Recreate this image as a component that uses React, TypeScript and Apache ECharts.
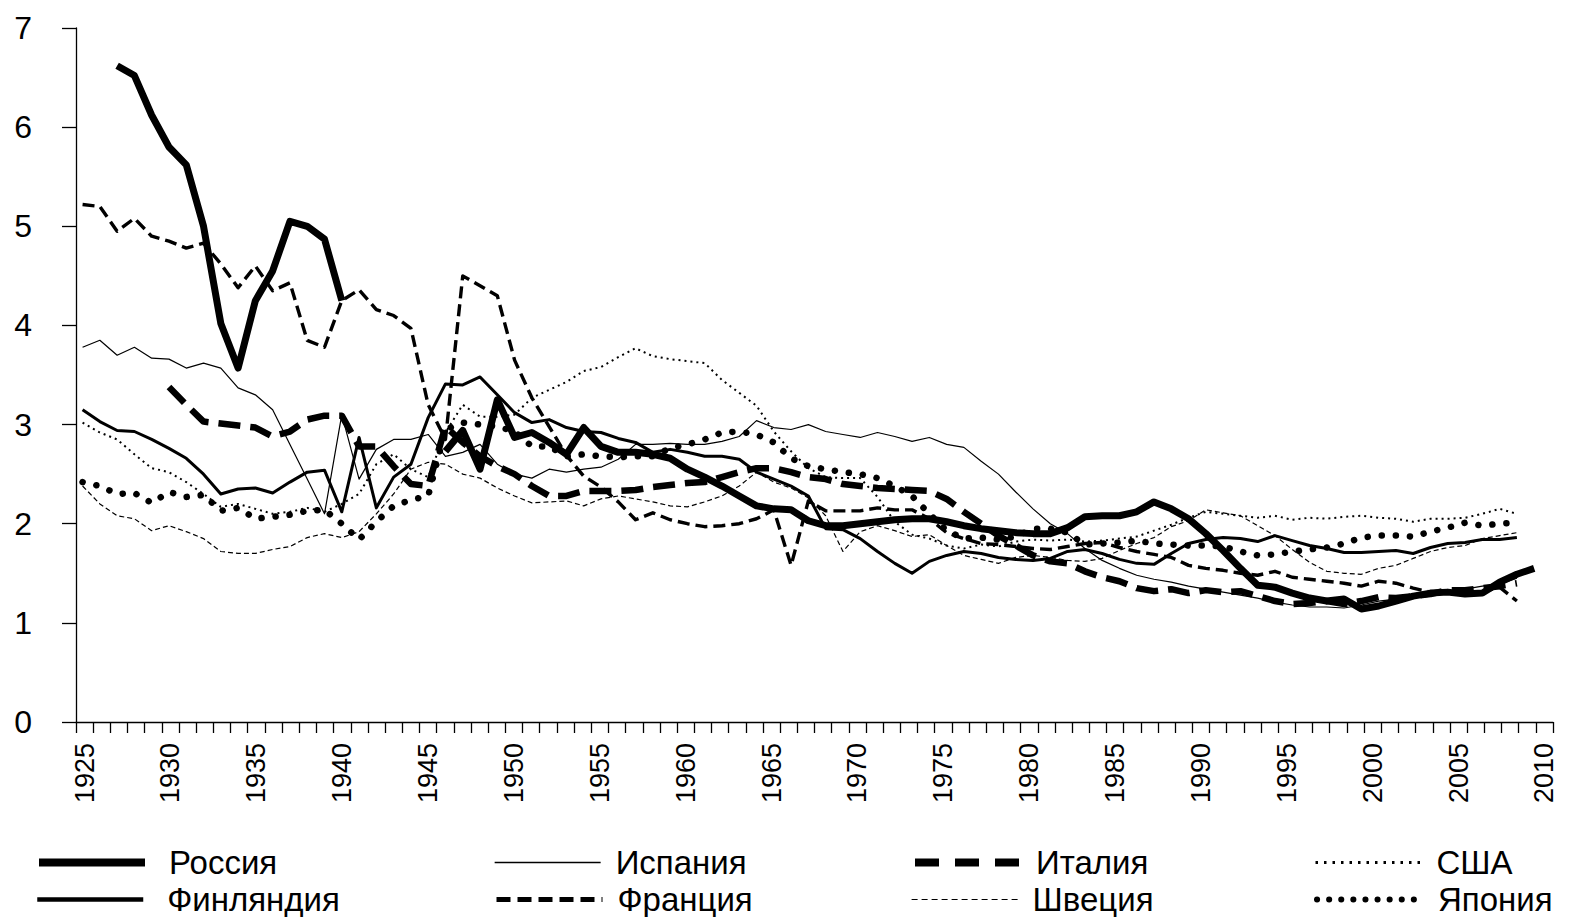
import React, { useEffect, useRef } from "react";
import * as echarts from "echarts";

const years: string[] = [];
for (let y = 1925; y <= 2010; y++) years.push(String(y));

const yTicks = [0, 1, 2, 3, 4, 5, 6, 7];

// values indexed by year, 1925 … 2010
const russia = [
  null, null, 6.62, 6.52, 6.12, 5.8, 5.62, 5.0, 4.02, 3.57,
  4.25, 4.55, 5.05, 5.0, 4.87, 4.25, null, null, null, null,
  null, 2.73, 2.94, 2.55, 3.25, 2.87, 2.92, 2.82, 2.7, 2.97,
  2.78, 2.72, 2.72, 2.7, 2.66, 2.55, 2.47, 2.38, 2.28, 2.18,
  2.15, 2.14, 2.03, 1.98, 1.98, 2.0, 2.02, 2.04, 2.05, 2.05,
  2.02, 1.98, 1.95, 1.93, 1.91, 1.9, 1.9, 1.96, 2.07, 2.08,
  2.08, 2.12, 2.22, 2.15, 2.05, 1.9, 1.73, 1.55, 1.38, 1.36,
  1.3, 1.25, 1.22, 1.24, 1.14, 1.17, 1.22, 1.27, 1.3, 1.31,
  1.29, 1.3, 1.41, 1.49, 1.55, null,
];

const finland = [
  3.15, 3.03, 2.94, 2.93, 2.85, 2.76, 2.66, 2.5, 2.3, 2.35,
  2.36, 2.31, 2.42, 2.52, 2.54, 2.12, 2.87, 2.16, 2.47, 2.6,
  3.07, 3.41, 3.4, 3.48, 3.3, 3.12, 3.02, 3.05, 2.97, 2.93,
  2.92, 2.86, 2.82, 2.72, 2.75, 2.72, 2.68, 2.68, 2.65, 2.52,
  2.45, 2.38, 2.28, 1.95, 1.94, 1.85, 1.72, 1.6, 1.5, 1.62,
  1.68, 1.72, 1.7, 1.66, 1.64, 1.63, 1.65, 1.72, 1.74, 1.7,
  1.64, 1.6, 1.59, 1.7, 1.8, 1.84, 1.86, 1.85, 1.82, 1.88,
  1.83, 1.78, 1.75, 1.71, 1.71, 1.72, 1.73, 1.7, 1.76, 1.8,
  1.81, 1.84, 1.84, 1.86, null, null,
];

const spain = [
  3.78, 3.85, 3.7, 3.78, 3.67, 3.66, 3.57, 3.62, 3.57, 3.37,
  3.3, 3.15, 2.8, 2.45, 2.1, 3.1, 2.45, 2.75, 2.85, 2.85,
  2.9, 2.68, 2.72, 2.8, 2.6, 2.5, 2.46, 2.55, 2.52, 2.55,
  2.57, 2.65, 2.8, 2.8, 2.81, 2.8, 2.8, 2.83, 2.88, 3.04,
  2.97, 2.95, 3.0, 2.93, 2.9, 2.87, 2.92, 2.88, 2.83, 2.87,
  2.8, 2.77, 2.63, 2.5, 2.32, 2.15, 2.0, 1.9, 1.75, 1.63,
  1.55, 1.48, 1.44, 1.41, 1.37, 1.34, 1.31, 1.28, 1.25, 1.21,
  1.18, 1.16, 1.16, 1.15, 1.18, 1.22, 1.24, 1.26, 1.3, 1.32,
  1.34, 1.37, 1.39, 1.45, null, null,
];

const france = [
  5.22, 5.2, 4.95, 5.08, 4.9, 4.85, 4.78, 4.83, 4.62, 4.38,
  4.6, 4.35, 4.43, 3.85, 3.78, 4.25, 4.36, 4.16, 4.1, 3.97,
  3.2, 2.85, 4.5, 4.4, 4.3, 3.65, 3.27, 2.98, 2.69, 2.48,
  2.37, 2.22, 2.04, 2.11, 2.04, 2.0, 1.97, 1.98, 2.0, 2.05,
  2.14, 1.58, 2.23, 2.13, 2.13, 2.13, 2.16, 2.14, 2.14, 2.05,
  1.91, 1.85, 1.8, 1.79, 1.77, 1.75, 1.74, 1.77, 1.8, 1.81,
  1.76, 1.72, 1.69, 1.66, 1.58, 1.55, 1.53, 1.5, 1.48, 1.52,
  1.46, 1.44, 1.42, 1.4, 1.37, 1.42, 1.4, 1.35, 1.31, 1.3,
  1.28, 1.31, 1.36, 1.22, null, null,
];

const italy = [
  null, null, null, null, null, 3.38, 3.2, 3.03, 3.01, 2.99,
  2.97, 2.88, 2.93, 3.05, 3.09, 3.09, 2.78, 2.78, 2.58, 2.4,
  2.38, 2.98, 2.82, 2.68, 2.58, 2.5, 2.38, 2.28, 2.28, 2.33,
  2.33, 2.33, 2.34, 2.37, 2.39, 2.41, 2.42, 2.47, 2.52, 2.56,
  2.56, 2.52, 2.47, 2.45, 2.4, 2.38, 2.36, 2.35, 2.34, 2.33,
  2.25, 2.12, 2.0, 1.88, 1.78, 1.68, 1.62, 1.6, 1.52, 1.46,
  1.42, 1.35, 1.32, 1.34, 1.3, 1.33, 1.31, 1.32, 1.27, 1.22,
  1.19, 1.2, 1.22, 1.19, 1.22, 1.26, 1.25, 1.27, 1.29, 1.33,
  1.33, 1.35, 1.37, 1.4, null, null,
];

const sweden = [
  2.38, 2.2, 2.08, 2.05, 1.93, 1.98, 1.92, 1.85, 1.72, 1.7,
  1.7, 1.74, 1.77, 1.86, 1.9, 1.86, 1.92, 2.1, 2.3, 2.55,
  2.62, 2.6, 2.5, 2.46, 2.36, 2.28, 2.21, 2.22, 2.23, 2.18,
  2.25, 2.28, 2.25, 2.22, 2.18, 2.17, 2.22, 2.28, 2.38, 2.52,
  2.42, 2.36, 2.26, 2.08, 1.72, 1.92, 1.98, 1.93, 1.87, 1.89,
  1.78, 1.68, 1.64, 1.6, 1.66, 1.68, 1.66, 1.63, 1.62, 1.65,
  1.73, 1.8, 1.86, 1.97, 2.03, 2.14, 2.11, 2.08, 1.98, 1.88,
  1.74, 1.61, 1.52, 1.5, 1.49, 1.55, 1.58, 1.65, 1.72, 1.76,
  1.78, 1.85, 1.88, 1.91, null, null,
];

const usa = [
  3.02, 2.92, 2.85, 2.7, 2.56, 2.52, 2.42, 2.3, 2.17, 2.2,
  2.15, 2.1, 2.12, 2.16, 2.12, 2.2, 2.3, 2.6, 2.7, 2.55,
  2.47, 2.92, 3.2, 3.08, 3.08, 3.1, 3.27, 3.35, 3.43, 3.54,
  3.58, 3.68, 3.77, 3.69, 3.66, 3.64, 3.62, 3.45, 3.32, 3.19,
  2.93, 2.73, 2.56, 2.47, 2.46, 2.46, 2.27, 2.02, 1.89, 1.85,
  1.78, 1.75, 1.79, 1.77, 1.82, 1.84, 1.83, 1.84, 1.82, 1.83,
  1.85, 1.87, 1.93, 1.99, 2.06, 2.12, 2.1, 2.08, 2.06, 2.08,
  2.04, 2.06, 2.05, 2.07, 2.08, 2.06, 2.05, 2.02, 2.05, 2.05,
  2.06, 2.1, 2.15, 2.1, null, null,
];

const japan = [
  2.42, 2.38, 2.3, 2.31, 2.21, 2.32, 2.27, 2.29, 2.13, 2.16,
  2.05, 2.07, 2.09, 2.13, 2.14, 2.0, 1.84, 2.02, 2.18, 2.24,
  2.28, 2.95, 3.02, 3.0, 2.98, 2.93, 2.78, 2.78, 2.68, 2.7,
  2.68, 2.67, 2.68, 2.68, 2.76, 2.8, 2.85, 2.92, 2.93, 2.9,
  2.82, 2.66, 2.58, 2.55, 2.52, 2.5, 2.46, 2.38, 2.28, 2.1,
  1.93, 1.85, 1.86, 1.84, 1.87, 1.95, 1.95, 1.91, 1.79, 1.8,
  1.81, 1.83, 1.8, 1.79, 1.78, 1.78, 1.77, 1.72, 1.68, 1.69,
  1.72, 1.74, 1.76, 1.8, 1.86, 1.88, 1.88, 1.87, 1.92, 1.96,
  2.01, 1.98, 2.0, 2.01, null, null,
];

const names = ["Россия", "Финляндия", "Испания", "Франция", "Италия", "Швеция", "США", "Япония"];

// extent of the (hidden) year scale on which the lines are plotted
const yearMin = 1924.62;
const yearMax = 2010.09;

const FONT = "'Liberation Sans', Arial, sans-serif";

export default function App() {
  const ref = useRef<HTMLDivElement>(null);
  useEffect(() => {
    if (!ref.current) return;
    const chart = echarts.init(ref.current, null, { renderer: "svg" });

    const mk = (name: string, values: (number | null)[], lineStyle: any, z: number) => ({
      name,
      type: "line",
      xAxisIndex: 1,
      data: years.map((y, i) => [Number(y), values[i]]),
      symbol: "none",
      showSymbol: false,
      silent: true,
      z,
      lineStyle: { color: "#000", join: "round", ...lineStyle },
      itemStyle: { color: "#000" },
    });

    const legendItem = (name: string, left: number, top: number, pad: number, ls: any) => ({
      data: [{ name, lineStyle: { color: "#000", ...ls } }],
      left,
      top,
      orient: "horizontal",
      itemWidth: 106,
      itemHeight: 14,
      selectedMode: false,
      itemStyle: { opacity: 0 },
      textStyle: { fontSize: 33, color: "#000", fontFamily: FONT, padding: [0, 0, 0, pad] },
    });

    const r1 = 841;
    const r2 = 878;

    chart.setOption({
      animation: false,
      backgroundColor: "#fff",
      textStyle: { fontFamily: FONT },
      grid: { left: 76, right: 34, top: 28, bottom: 195, containLabel: false },
      xAxis: [
        {
          type: "category",
          data: years,
          boundaryGap: true,
          axisLine: { show: true, lineStyle: { color: "#000", width: 1.3 } },
          axisTick: { show: true, interval: 0, length: 11, lineStyle: { color: "#000", width: 1.3 } },
          axisLabel: { interval: 4, rotate: 90, fontSize: 27, color: "#000", margin: 21, fontFamily: FONT },
          splitLine: { show: false },
        },
        {
          type: "value",
          min: yearMin,
          max: yearMax,
          show: false,
          position: "bottom",
          splitLine: { show: false },
        },
      ],
      yAxis: {
        type: "value",
        min: yTicks[0],
        max: yTicks[yTicks.length - 1],
        interval: 1,
        axisLine: { show: true, lineStyle: { color: "#000", width: 1.3 } },
        axisTick: { show: true, length: 14, lineStyle: { color: "#000", width: 1.3 } },
        axisLabel: { fontSize: 32, color: "#000", margin: 44, fontFamily: FONT },
        splitLine: { show: false },
      },
      legend: [
        legendItem(names[0], 30, r1, 19, { width: 8, type: "solid" }),
        legendItem(names[1], 30, r2, 19, { width: 4.5, type: "solid" }),
        legendItem(names[2], 489, r1, 10, { width: 1.3, type: "solid" }),
        legendItem(names[3], 489, r2, 10, { width: 5, type: [14, 7] }),
        legendItem(names[4], 906, r1, 10, { width: 8, type: [24, 16] }),
        legendItem(names[5], 906, r2, 10, { width: 1.2, type: [6, 4] }),
        legendItem(names[6], 1309, r1, 10, { width: 3, type: [2.5, 6] }),
        legendItem(names[7], 1309, r2, 10, { width: 6, type: [0.1, 12], cap: "round" }),
      ],
      series: [
        mk(names[0], russia, { width: 7, type: "solid" }, 8),
        mk(names[1], finland, { width: 3, type: "solid" }, 7),
        mk(names[2], spain, { width: 1.2, type: "solid" }, 6),
        mk(names[3], france, { width: 3.4, type: [12, 6] }, 5),
        mk(names[4], italy, { width: 6.5, type: [22, 10] }, 4),
        mk(names[5], sweden, { width: 1.2, type: [5, 3] }, 3),
        mk(names[6], usa, { width: 2, type: [2, 4] }, 2),
        mk(names[7], japan, { width: 6.5, type: [0.1, 14], cap: "round" }, 1),
      ],
    });
    return () => chart.dispose();
  }, []);
  return (
    <div
      ref={ref}
      style={{ position: "absolute", left: 0, top: 0, width: 1587, height: 917 }}
    />
  );
}
